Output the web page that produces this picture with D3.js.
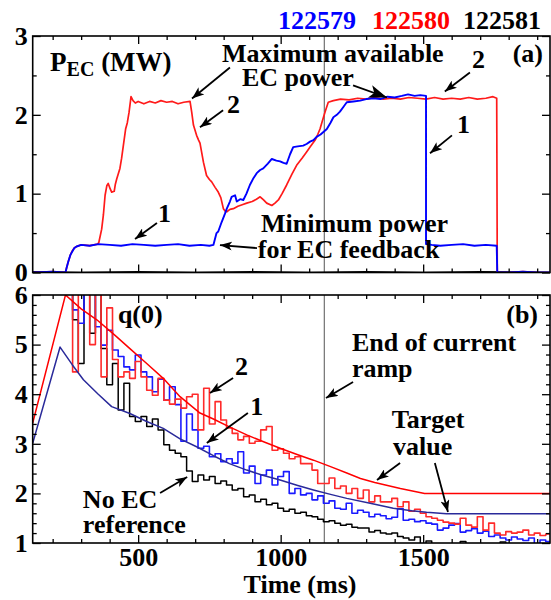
<!DOCTYPE html>
<html>
<head>
<meta charset="utf-8">
<script src="https://cdn.jsdelivr.net/npm/d3@7/dist/d3.min.js"></script>
<style>
  body { margin: 0; background: #fff; }
  svg text { font-family: "Liberation Serif", "Times New Roman", serif; font-weight: bold; }
</style>
</head>
<body>
<svg id="chart" width="551" height="600"></svg>
<script>
// ---- shot numbers (legend) ----
var shots = ["122579", "122580", "122581"];
var shotColors = ["#0000ff", "#ff0000", "#000000"];

// ---- panel (a): EC power (MW), [time ms, power] ----
var pecBlue = [
  [130, 0], [200, 0.01], [245, 0], [249, 0.06], [255, 0.14], [262, 0.22], [268, 0.26], [276, 0.31],
  [284, 0.33], [300, 0.35], [330, 0.34], [360, 0.36], [400, 0.35], [440, 0.34], [480, 0.36],
  [520, 0.35], [560, 0.34], [600, 0.35], [640, 0.36], [680, 0.34], [720, 0.35], [750, 0.34],
  [764, 0.35], [775, 0.5], [781, 0.52], [793, 0.64], [805, 0.75], [811, 0.81], [822, 0.9],
  [828, 0.96], [840, 0.98], [846, 0.9], [858, 0.93], [869, 0.92], [880, 1.0], [892, 1.11],
  [905, 1.2], [916, 1.26], [928, 1.3], [939, 1.32], [955, 1.38], [969, 1.44], [985, 1.42],
  [998, 1.41], [1010, 1.39], [1021, 1.38], [1033, 1.5], [1044, 1.59], [1060, 1.6], [1079, 1.61],
  [1091, 1.63], [1103, 1.66], [1115, 1.68], [1126, 1.72], [1140, 1.75], [1162, 1.82], [1175, 1.9],
  [1185, 1.97], [1197, 2.0], [1208, 2.04], [1220, 2.1], [1232, 2.16], [1255, 2.17], [1279, 2.18],
  [1300, 2.2], [1325, 2.21], [1350, 2.2], [1375, 2.23], [1400, 2.22], [1425, 2.24], [1447, 2.26],
  [1470, 2.24], [1490, 2.25], [1510, 2.24], [1510, 0.36], [1530, 0.35], [1560, 0.34], [1600, 0.35],
  [1640, 0.36], [1680, 0.34], [1720, 0.35], [1758, 0.34], [1760, 0], [1800, 0], [1850, 0.01],
  [1900, 0], [1945, 0]
];
var pecRed = [
  [130, 0], [200, 0.01], [245, 0], [249, 0.06], [255, 0.14], [262, 0.22], [268, 0.27], [276, 0.31],
  [284, 0.33], [300, 0.35], [330, 0.34], [358, 0.36], [362, 0.38], [372, 0.55], [378, 0.73],
  [384, 0.98], [390, 1.1], [395, 1.13], [402, 1.06], [407, 1.02], [416, 1.03], [420, 1.12],
  [425, 1.19], [436, 1.32], [442, 1.45], [448, 1.61], [456, 1.82], [462, 1.9], [468, 2.03],
  [475, 2.23], [482, 2.18], [490, 2.15], [500, 2.17], [520, 2.14], [540, 2.17], [560, 2.15],
  [580, 2.18], [600, 2.16], [620, 2.17], [640, 2.14], [660, 2.16], [682, 2.17], [688, 2.03],
  [694, 1.87], [705, 1.74], [712, 1.68], [717, 1.64], [729, 1.4], [740, 1.23], [750, 1.18],
  [758, 1.15], [770, 1.08], [781, 1.02], [790, 0.95], [799, 0.81], [805, 0.78], [811, 0.77],
  [822, 0.8], [834, 0.81], [850, 0.84], [865, 0.86], [881, 0.88], [900, 0.9], [915, 0.93],
  [928, 0.96], [940, 0.92], [951, 0.88], [969, 0.85], [980, 0.88], [992, 0.92], [1005, 1.0],
  [1021, 1.11], [1040, 1.25], [1056, 1.36], [1075, 1.45], [1091, 1.53], [1105, 1.6], [1121, 1.68],
  [1130, 1.75], [1138, 1.82], [1146, 1.92], [1156, 2.04], [1167, 2.16], [1185, 2.18], [1210, 2.2],
  [1240, 2.19], [1270, 2.21], [1300, 2.2], [1330, 2.22], [1360, 2.2], [1390, 2.21], [1420, 2.2],
  [1450, 2.22], [1480, 2.21], [1510, 2.2], [1540, 2.22], [1570, 2.2], [1600, 2.21], [1630, 2.2],
  [1660, 2.22], [1690, 2.2], [1720, 2.21], [1745, 2.23], [1758, 2.21], [1760, 0], [1800, 0],
  [1850, 0.01], [1900, 0], [1945, 0]
];
var pecBlack = [
  [130, 0.01], [300, 0], [500, 0.01], [700, 0], [900, 0.01], [1100, 0], [1300, 0.01],
  [1500, 0], [1700, 0.01], [1945, 0]
];

// ---- panel (b): q(0), sampled every 20 ms from 250 ms ----
var qStart = 250, qStep = 20;
var qRed = [
  6.4, 4.45, 6.5, 6.3, 5.0, 6.4, 4.35, 5.74, 4.7, 4.35, 4.45, 4.32, 4.66, 4.35, 4.08, 3.98,
  4.32, 3.88, 3.8, 3.9, 3.72, 3.95, 4.0, 3.28, 4.12, 3.4, 3.85, 3.48, 3.32, 3.21, 3.08, 3.15,
  3.01, 3.05, 3.28, 3.35, 2.87, 2.9, 2.81, 2.7, 2.74, 2.6, 2.6, 2.47, 2.2, 2.2, 2.31, 2.1,
  2.15, 2.0, 2.1, 1.9, 2.07, 1.83, 1.95, 1.83, 1.83, 1.9, 1.73, 1.83, 1.64, 1.68, 1.6, 1.53,
  1.5, 1.46, 1.42, 1.4, 1.38, 1.5, 1.36, 1.32, 1.53, 1.26, 1.4, 1.2, 1.16, 1.23, 1.2, 1.22,
  1.26, 1.16, 1.2, 1.15, 1.18
];
var qBlue = [
  6.4, 5.7, 5.43, 6.3, 6.2, 5.36, 4.99, 5.29, 4.89, 4.76, 4.55, 4.49, 4.79, 4.45, 4.35, 4.05,
  4.3, 3.88, 4.15, 3.79, 3.05, 3.6, 3.28, 2.91, 2.95, 2.74, 2.8, 2.64, 2.7, 2.61, 2.84, 2.41,
  2.55, 2.2, 2.37, 2.47, 2.17, 2.34, 2.44, 2.0, 2.1, 1.97, 2.0, 1.87, 1.95, 1.8, 1.85, 1.7,
  1.68, 1.8, 1.6, 1.66, 1.62, 1.53, 1.58, 1.55, 1.49, 1.52, 1.69, 1.46, 1.48, 1.43, 1.45, 1.4,
  1.38, 1.26, 1.3, 1.36, 1.39, 1.22, 1.25, 1.29, 1.2, 1.24, 1.13, 1.16, 1.1, 1.06, 1.12, 1.08,
  1.05, 1.1, 0.98, 1.06, 1.03
];
var qBlack = [
  6.4, 5.5, 4.62, 6.3, 5.23, 6.2, 4.92, 4.19, 4.62, 3.68, 4.22, 3.55, 3.45, 3.55, 3.35, 3.5,
  3.28, 2.98, 2.87, 2.81, 2.74, 2.45, 2.24, 2.37, 2.27, 2.34, 2.2, 2.25, 2.17, 2.07, 2.1, 1.93,
  1.97, 1.83, 1.88, 1.77, 1.8, 1.7, 1.64, 1.68, 1.6, 1.62, 1.55, 1.53, 1.48, 1.43, 1.45, 1.4,
  1.36, 1.38, 1.32, 1.3, 1.3, 1.22, 1.25, 1.2, 1.18, 1.2, 1.13, 1.1, 1.06, 1.12, 0.98, 1.04,
  0.95, 0.9, 0.92, 0.9, 0.95, 1.03, 0.92, 0.9, 0.9, 0.92, 0.9, 0.95, 1.02, 0.9, 0.9, 0.92,
  0.9, 0.9, 0.92, 0.9, 0.9
];
// target q(0) waveforms, [time ms, q]
var targetRed = [
  [130, 3.42], [245, 6.0], [300, 5.72], [355, 5.5], [420, 5.18], [471, 4.92], [530, 4.62],
  [588, 4.32], [647, 3.95], [717, 3.62], [764, 3.5], [820, 3.34], [881, 3.18], [940, 3.04],
  [998, 2.91], [1060, 2.78], [1115, 2.67], [1175, 2.54], [1232, 2.41], [1280, 2.3], [1330, 2.22],
  [1420, 2.1], [1505, 2.0], [1945, 2.0]
];
var targetBlue = [
  [130, 3.01], [226, 4.95], [268, 4.6], [308, 4.29], [360, 4.0], [407, 3.75], [471, 3.61],
  [530, 3.45], [588, 3.31], [647, 3.1], [705, 2.94], [764, 2.76], [820, 2.6], [881, 2.47],
  [940, 2.36], [998, 2.27], [1060, 2.16], [1115, 2.07], [1175, 1.98], [1232, 1.9], [1314, 1.8],
  [1395, 1.7], [1460, 1.65], [1512, 1.62], [1582, 1.59], [1945, 1.59]
];
var rampEnd = 1153;

var xTicksMajor = [500, 1000, 1500];

var svg = d3.select("#chart");
svg.append("rect").attr("width", 551).attr("height", 600).attr("fill", "#fff");

var x = d3.scaleLinear().domain([130, 1945]).range([32.7, 550]);
var yA = d3.scaleLinear().domain([0, 3]).range([272.5, 36]);
var yB = d3.scaleLinear().domain([1, 6]).range([543, 295]);

var defs = svg.append("defs");
function marker(id, len, wid) {
  defs.append("marker").attr("id", id)
    .attr("markerUnits", "userSpaceOnUse")
    .attr("viewBox", "0 0 " + len + " " + wid)
    .attr("refX", len).attr("refY", wid / 2)
    .attr("markerWidth", len).attr("markerHeight", wid)
    .attr("orient", "auto")
    .append("path").attr("d", "M0,0L" + len + "," + (wid / 2) + "L0," + wid + "L" + (len * 0.25) + "," + (wid / 2) + "Z")
    .attr("fill", "#000");
}
marker("ah", 12, 9);
marker("ahBig", 18, 13);

function clip(id, y) {
  defs.append("clipPath").attr("id", id).append("rect")
    .attr("x", x.range()[0]).attr("y", y.range()[1])
    .attr("width", x.range()[1] - x.range()[0]).attr("height", y.range()[0] - y.range()[1]);
}
clip("clipA", yA);
clip("clipB", yB);

function axesFrame(y, majors, minors, xLabels) {
  var g = svg.append("g");
  var x0 = x.range()[0], x1 = x.range()[1];
  var yb = y.range()[0], yt = y.range()[1];
  var xMinor = d3.range(200, 1945, 100).filter(function (d) { return xTicksMajor.indexOf(d) < 0; });

  function ax(gen, tr, vals, size, labels) {
    var a = gen.tickValues(vals).tickSizeInner(-size).tickSizeOuter(0).tickPadding(5)
      .tickFormat(labels ? d3.format("d") : "");
    var s = g.append("g").attr("transform", tr).call(a);
    s.select(".domain").remove();
    s.selectAll("line").attr("stroke", "#000").attr("stroke-width", 1.3);
    s.selectAll("text").attr("font-size", 26).attr("fill", "#000")
      .attr("font-family", "Liberation Serif, Times New Roman, serif").attr("font-weight", "bold");
    return s;
  }
  ax(d3.axisLeft(y), "translate(" + x0 + ",0)", majors, 8, true);
  ax(d3.axisLeft(y), "translate(" + x0 + ",0)", minors, 4, false);
  ax(d3.axisRight(y), "translate(" + x1 + ",0)", majors, 8, false);
  ax(d3.axisRight(y), "translate(" + x1 + ",0)", minors, 4, false);
  ax(d3.axisBottom(x), "translate(0," + yb + ")", xTicksMajor, 8, xLabels);
  ax(d3.axisBottom(x), "translate(0," + yb + ")", xMinor, 4, false);
  ax(d3.axisTop(x), "translate(0," + yt + ")", xTicksMajor, 8, false);
  ax(d3.axisTop(x), "translate(0," + yt + ")", xMinor, 4, false);

  g.append("rect").attr("x", x0).attr("y", yt).attr("width", x1 - x0).attr("height", yb - yt)
    .attr("fill", "none").attr("stroke", "#000").attr("stroke-width", 1.6);
  return g;
}

function drawLine(clipId, data, y, color, width, curve) {
  svg.append("path").datum(data)
    .attr("clip-path", "url(#" + clipId + ")")
    .attr("fill", "none").attr("stroke", color).attr("stroke-width", width)
    .attr("stroke-linejoin", "round")
    .attr("d", d3.line().x(function (d) { return x(d[0]); }).y(function (d) { return y(d[1]); })
      .curve(curve || d3.curveLinear));
}
function sampled(vals) {
  var pts = vals.map(function (v, i) { return [qStart + i * qStep, v]; });
  pts.push([qStart + vals.length * qStep, vals[vals.length - 1]]);
  return pts;
}

function text(str, px, py, size, anchor, color) {
  return svg.append("text").attr("x", px).attr("y", py)
    .attr("font-size", size || 26).attr("text-anchor", anchor || "start")
    .attr("fill", color || "#000").text(str);
}
function arrow(y, t1, v1, t2, v2, big) {
  svg.append("line")
    .attr("x1", x(t1)).attr("y1", y(v1)).attr("x2", x(t2)).attr("y2", y(v2))
    .attr("stroke", "#000").attr("stroke-width", 1.8)
    .attr("marker-end", "url(#" + (big ? "ahBig" : "ah") + ")");
}

// ---------- panel (a) ----------
svg.append("line").attr("x1", x(rampEnd)).attr("x2", x(rampEnd))
  .attr("y1", yA(3)).attr("y2", yA(0)).attr("stroke", "#555").attr("stroke-width", 1);
drawLine("clipA", pecBlack, yA, "#000", 1.5);
drawLine("clipA", pecRed, yA, "#ff1a1a", 1.7);
drawLine("clipA", pecBlue, yA, "#0000ff", 1.9);
axesFrame(yA, [0, 1, 2, 3], [0.5, 1.5, 2.5], false);

// legend
text(shots[0], 278, 29, 26, "start", shotColors[0]);
text(shots[1], 372, 29, 26, "start", shotColors[1]);
text(shots[2], 463, 29, 26, "start", shotColors[2]);

var pLab = svg.append("text").attr("x", x(191)).attr("y", yA(2.56)).attr("font-size", 27);
pLab.append("tspan").text("P");
pLab.append("tspan").attr("font-size", 20).attr("dy", 5).text("EC");
pLab.append("tspan").attr("dy", -5).text(" (MW)");

text("(a)", x(1945) - 7, yA(2.665), 26, "end");
text("Maximum available", x(794), yA(2.665));
text("EC power", x(864), yA(2.36));
arrow(yA, 822, 2.60, 689, 2.208);
arrow(yA, 1254, 2.373, 1373, 2.22, true);
text("2", x(812), yA(2.02));
arrow(yA, 798, 2.057, 717, 1.842);
text("2", x(1671), yA(2.59));
arrow(yA, 1664, 2.538, 1576, 2.297);
text("1", x(1619), yA(1.766));
arrow(yA, 1601, 1.74, 1524, 1.513);
text("1", x(570), yA(0.639));
arrow(yA, 566, 0.627, 489, 0.424);
text("Minimum power", x(931), yA(0.513));
text("for EC feedback", x(920), yA(0.184));
arrow(yA, 917, 0.31, 787, 0.348);

// ---------- panel (b) ----------
svg.append("line").attr("x1", x(rampEnd)).attr("x2", x(rampEnd))
  .attr("y1", yB(6)).attr("y2", yB(1)).attr("stroke", "#555").attr("stroke-width", 1);
drawLine("clipB", sampled(qBlack), yB, "#000", 1.5, d3.curveStepAfter);
drawLine("clipB", sampled(qBlue), yB, "#1a1aff", 1.6, d3.curveStepAfter);
drawLine("clipB", sampled(qRed), yB, "#ff2a2a", 1.6, d3.curveStepAfter);
drawLine("clipB", targetRed, yB, "#ff0000", 1.5);
drawLine("clipB", targetBlue, yB, "#2a2a9a", 1.5);
axesFrame(yB, [1, 2, 3, 4, 5, 6],
  d3.range(1, 6.01, 0.2).filter(function (d) { return Math.abs(d - Math.round(d)) > 0.01; }), true);

text("q(0)", x(429), yB(5.435));
text("(b)", x(1945) - 12, yB(5.435), 26, "end");
text("End of current", x(1250), yB(4.871));
text("ramp", x(1250), yB(4.347));
arrow(yB, 1254, 4.246, 1159, 3.923);
text("Target", x(1390), yB(3.319));
text("value", x(1394), yB(2.774));
arrow(yB, 1419, 2.613, 1338, 2.27);
arrow(yB, 1541, 2.613, 1587, 1.625);
text("2", x(840), yB(4.387));
arrow(yB, 833, 4.327, 752, 4.024);
text("1", x(893), yB(3.58));
arrow(yB, 885, 3.62, 741, 3.016);
text("No EC", x(306), yB(1.706));
text("reference", x(306), yB(1.2));
arrow(yB, 577, 2.008, 672, 2.33);

text("Time (ms)", 300, 593, 26, "middle");
</script>
</body>
</html>
